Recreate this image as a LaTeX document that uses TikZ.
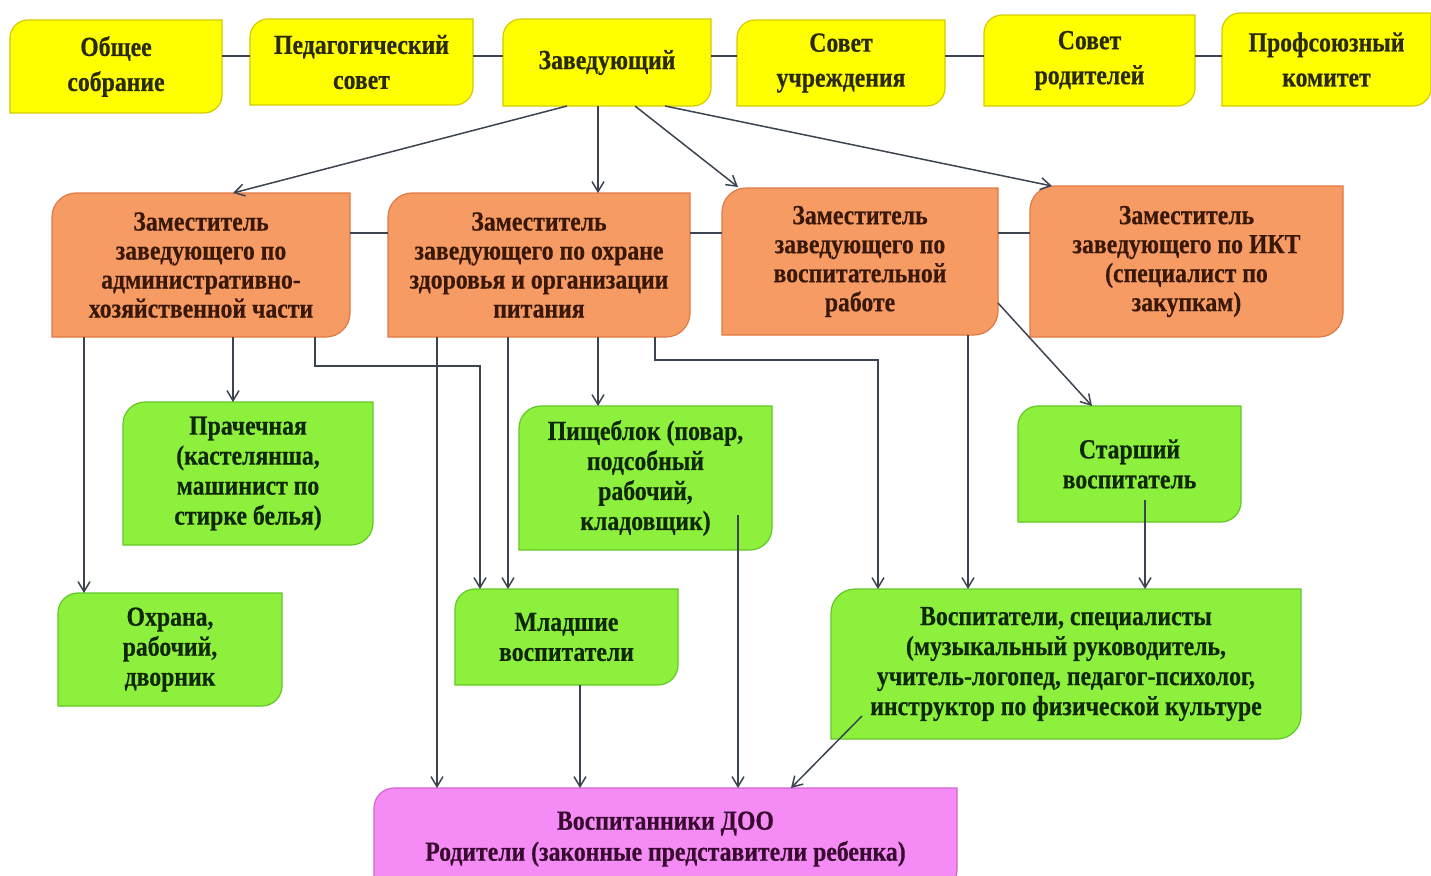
\documentclass[tikz,border=0pt]{standalone}
\usepackage{fontspec}
\setmainfont{Liberation Serif}[BoldFeatures={FakeStretch=0.86,FakeBold=0.4}]
\usetikzlibrary{arrows.meta,calc}
\definecolor{yelF}{HTML}{FFFF00}
\definecolor{yelD}{HTML}{D2CC00}
\definecolor{yelT}{HTML}{2A2A10}
\definecolor{oraF}{HTML}{F79B64}
\definecolor{oraD}{HTML}{E07A45}
\definecolor{oraT}{HTML}{3A1808}
\definecolor{grnF}{HTML}{8CF03C}
\definecolor{grnD}{HTML}{62C828}
\definecolor{grnT}{HTML}{10280A}
\definecolor{pnkF}{HTML}{F58CF5}
\definecolor{pnkD}{HTML}{D264D2}
\definecolor{pnkT}{HTML}{380A30}
\definecolor{lnC}{HTML}{3C4450}
\tikzset{
  yelbox/.style={fill=yelF,draw=yelD,line width=0.6pt},
  orabox/.style={fill=oraF,draw=oraD,line width=0.6pt},
  grnbox/.style={fill=grnF,draw=grnD,line width=0.6pt},
  pnkbox/.style={fill=pnkF,draw=pnkD,line width=0.6pt},
  basetxt/.style={inner sep=0pt,outer sep=0pt,align=center},
  yeltxt/.style={basetxt,text=yelT,font=\bfseries\fontsize{13.8}{17.5}\selectfont},
  oratxt/.style={basetxt,text=oraT,font=\bfseries\fontsize{13.8}{14.5}\selectfont},
  grntxt/.style={basetxt,text=grnT,font=\bfseries\fontsize{13.8}{15}\selectfont},
  pnktxt/.style={basetxt,text=pnkT,font=\bfseries\fontsize{13.8}{15.5}\selectfont},
  ln/.style={draw=lnC,line width=0.75pt},
  arr/.style={ln,-{Straight Barb[length=5pt,width=6pt]}},
}
% name, x1, y1, x2, y2, kind, text, radius
\newcommand\bx[8]{%
  \path[#6box] (#2,#5) -- (#2,{#3+#8}) .. controls (#2,{#3+0.45*#8}) and ({#2+0.45*#8},#3) .. ({#2+#8},#3)
    -- (#4,#3) -- (#4,{#5-#8}) .. controls (#4,{#5-0.45*#8}) and ({#4-0.45*#8},#5) .. ({#4-#8},#5) -- cycle;
  \node[#6txt,minimum width={(#4-#2)*0.5pt},minimum height={(#5-#3)*0.5pt}] (#1) at ({(#2+#4)/2},{(#3+#5)/2}) {#7};%
}
\begin{document}
\begin{tikzpicture}[x=0.5pt,y=-0.5pt]
\useasboundingbox[fill=white] (0,0) rectangle (1431,875);
% top row
\bx{obs}{10}{20}{222}{113}{yel}{Общее\\собрание}{18}
\bx{ped}{250}{19}{473}{105}{yel}{Педагогический\\совет}{18}
\bx{zav}{503}{19}{711}{106}{yel}{Заведующий}{18}
\bx{su}{737}{20}{945}{106}{yel}{Совет\\учреждения}{18}
\bx{sr}{984}{15}{1195}{106}{yel}{Совет\\родителей}{18}
\bx{pk}{1222}{13}{1431}{106}{yel}{Профсоюзный\\комитет}{18}
% orange row
\bx{A}{52}{193}{350}{337}{ora}{Заместитель\\заведующего по\\административно-\\хозяйственной части}{24}
\bx{B}{388}{193}{690}{337}{ora}{Заместитель\\заведующего по охране\\здоровья и организации\\питания}{24}
\bx{C}{722}{188}{998}{335}{ora}{Заместитель\\заведующего по\\воспитательной\\работе}{24}
\bx{D}{1030}{186}{1343}{337}{ora}{Заместитель\\заведующего по ИКТ\\(специалист по\\закупкам)}{24}
% green
\bx{pr}{123}{402}{373}{545}{grn}{Прачечная\\(кастелянша,\\машинист по\\стирке белья)}{22}
\bx{oh}{58}{593}{282}{706}{grn}{Охрана,\\рабочий,\\дворник}{20}
\bx{pi}{519}{406}{772}{550}{grn}{Пищеблок (повар,\\подсобный\\рабочий,\\кладовщик)}{22}
\bx{ml}{455}{589}{678}{685}{grn}{Младшие\\воспитатели}{20}
\bx{st}{1018}{406}{1241}{522}{grn}{Старший\\воспитатель}{20}
\bx{vs}{831}{589}{1301}{739}{grn}{Воспитатели, специалисты\\(музыкальный руководитель,\\учитель-логопед, педагог-психолог,\\инструктор по физической культуре}{24}
% pink
\bx{pink}{374}{788}{957}{890}{pnk}{Воспитанники ДОО\\Родители (законные представители ребенка)}{20}
% plain links
\draw[ln] (obs.east |- 0,56) -- (ped.west |- 0,56);
\draw[ln] (ped.east |- 0,56) -- (zav.west |- 0,56);
\draw[ln] (zav.east |- 0,56) -- (su.west |- 0,56);
\draw[ln] (su.east |- 0,56) -- (sr.west |- 0,56);
\draw[ln] (sr.east |- 0,56) -- (pk.west |- 0,56);
\draw[ln] (A.east |- 0,233) -- (B.west |- 0,233);
\draw[ln] (B.east |- 0,233) -- (C.west |- 0,233);
\draw[ln] (C.east |- 0,233) -- (D.west |- 0,233);
% arrows from head
\draw[arr] (zav.south -| 567,0) -- (A.north -| 233,0);
\draw[arr] (zav.south -| 598,0) -- (B.north -| 598,0);
\draw[arr] (zav.south -| 635,0) -- (738,187);
\draw[arr] (zav.south -| 665,0) -- (D.north -| 1052,0);
% from A
\draw[arr] (A.south -| 84,0) -- (oh.north -| 84,0);
\draw[arr] (A.south -| 233,0) -- (pr.north -| 233,0);
\draw[arr] (A.south -| 315,0) -- (315,366) -- (480,366) -- (ml.north -| 480,0);
% from B
\draw[arr] (B.south -| 437,0) -- (pink.north -| 437,0);
\draw[arr] (B.south -| 508,0) -- (ml.north -| 508,0);
\draw[arr] (B.south -| 598,0) -- (pi.north -| 598,0);
\draw[arr] (B.south -| 655,0) -- (655,360) -- (878,360) -- (vs.north -| 878,0);
% from C
\draw[arr] (C.south -| 968,0) -- (vs.north -| 968,0);
\draw[arr] (C.east |- 0,303) -- (st.north -| 1092,0);
% lower
\draw[arr] ($(st.south -| 1145,0)+(0,-22)$) -- (vs.north -| 1145,0);
\draw[arr] (ml.south -| 580,0) -- (pink.north -| 580,0);
\draw[arr] ($(pi.south -| 738,0)+(0,-35)$) -- (pink.north -| 738,0);
\draw[arr] ($(vs.south west)+(31,-23)$) -- (pink.north -| 791,0);
\end{tikzpicture}
\end{document}
